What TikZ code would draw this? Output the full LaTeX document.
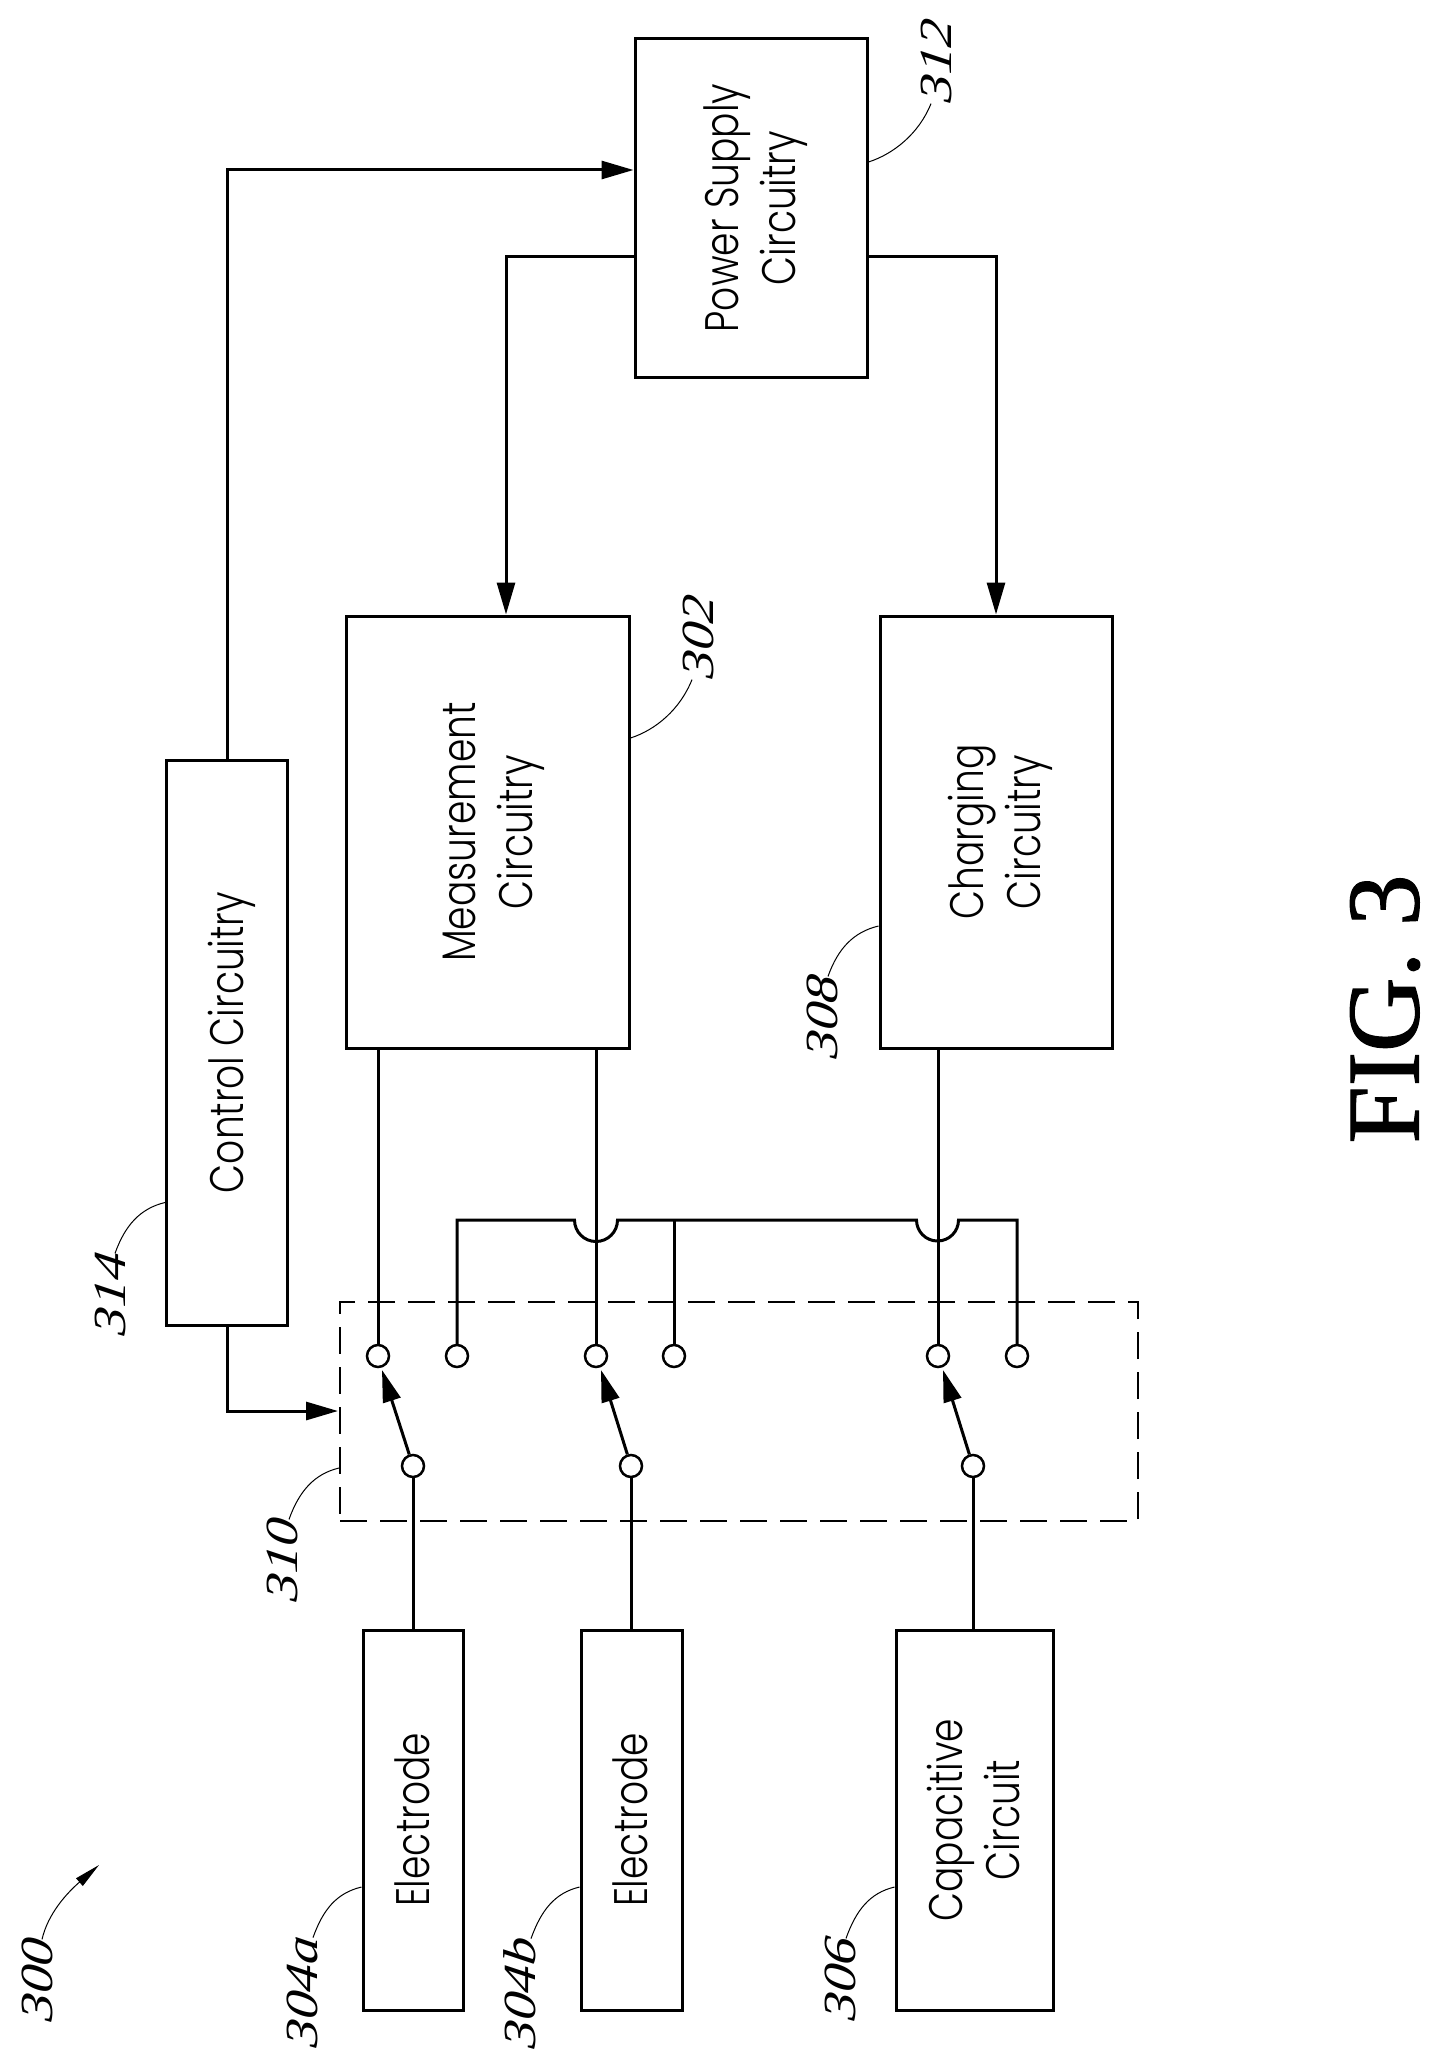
\documentclass[tikz,border=0pt]{standalone}
\usepackage{fontspec}
\setmainfont{Poppins Light}[FakeStretch=0.8]
\newfontfamily\reffont{Liberation Serif}[FakeStretch=1.2,ItalicFeatures={FakeSlant=0.12}]
\newfontfamily\figfont{Liberation Serif}[FakeBold=1.2]
\usetikzlibrary{arrows.meta}
\newcommand{\vtext}[1]{\hspace*{10pt}\rotatebox{90}{\begin{tabular}{@{}c@{}}#1\end{tabular}}}
\tikzset{
  blk/.style={draw,line width=3pt,inner sep=0pt,font=\fontsize{47}{57}\selectfont},
  wire/.style={line width=3pt},
  arr/.style={wire,-{Triangle[length=32pt,width=18pt]}},
  contact/.style={circle,draw,line width=2.5pt,fill=white,minimum size=22pt,inner sep=0pt},
  swbox/.style={draw,line width=2pt,dash pattern=on 27pt off 13pt,inner sep=0pt},
  lead/.style={line width=1pt},
  reflabel/.style={rotate=90,inner sep=0pt,font=\reffont\itshape\fontsize{46}{46}\selectfont},
}

\begin{document}
\begin{tikzpicture}[x=1pt,y=1pt]
    \useasboundingbox (0,0) rectangle (1442,-2068);

    \node[swbox,minimum width=798pt,minimum height=219pt] (sw) at (739,-1411.5) {};

    \node[blk,minimum width=232pt,minimum height=338pt] (pwr)  at (751,-208)     {\vtext{Power Supply\\Circuitry}};
    \node[blk,minimum width=121pt,minimum height=565pt] (ctrl) at (227,-1042.5)  {\vtext{Control Circuitry}};
    \node[blk,minimum width=283pt,minimum height=432pt] (meas) at (487.5,-832)   {\vtext{Measurement\\Circuitry}};
    \node[blk,minimum width=232pt,minimum height=432pt] (chg)  at (996,-832)     {\vtext{Charging\\Circuitry}};
    \node[blk,minimum width=100pt,minimum height=380pt] (ela)  at (413,-1820)    {\vtext{Electrode}};
    \node[blk,minimum width=101pt,minimum height=380pt] (elb)  at (631.5,-1820)  {\vtext{Electrode}};
    \node[blk,minimum width=157pt,minimum height=380pt] (cap)  at (974.5,-1820)  {\vtext{Capacitive\\Circuit}};

    \foreach \n/\x in {c1/378,c2/457,c3/596,c4/674,c5/938,c6/1017}
      \node[contact] (\n) at (\x,-1356) {};
    \foreach \n/\x in {s1/413,s2/631,s3/973}
      \node[contact] (\n) at (\x,-1466) {};

    \coordinate (swin) at (338,-1411);
    \coordinate (t1) at (382,-1370);
    \coordinate (t2) at (601,-1370);
    \coordinate (t3) at (943,-1370);
    \coordinate (j1) at (574.5,-1220);
    \coordinate (j2) at (916.5,-1220);

    \draw[arr] (ctrl.north) |- ([yshift=38pt]pwr.west);
    \draw[arr] (ctrl.south) |- (swin);
    \draw[arr] ([yshift=-49pt]pwr.west) -| ([xshift=18.5pt]meas.north);
    \draw[arr] ([yshift=-49pt]pwr.east) -| (chg.north);

    \draw[wire] (c1) -- (c1 |- meas.south);
    \draw[wire] (c3) -- (c3 |- meas.south);
    \draw[wire] (c5) -- (c5 |- chg.south);
    \draw[wire] (c2) |- (j1) arc (180:360:21.5pt) -- (j2) arc (180:360:21pt) -| (c6);
    \draw[wire] (c4) -- (c4 |- j1);

    \draw[wire] (s1) -- (s1 |- ela.north);
    \draw[wire] (s2) -- (s2 |- elb.north);
    \draw[wire] (s3) -- (s3 |- cap.north);
    \draw[arr] (s1) -- (t1);
    \draw[arr] (s2) -- (t2);
    \draw[arr] (s3) -- (t3);

    \node[reflabel] (l300)  at (37,-1981)  {300};
    \node[reflabel] (l302)  at (698,-638)  {302};
    \node[reflabel] (l304a) at (302,-1993) {304a};
    \node[reflabel] (l304b) at (520,-1994) {304b};
    \node[reflabel] (l306)  at (840,-1980) {306};
    \node[reflabel] (l308)  at (822,-1018) {308};
    \node[reflabel] (l310)  at (282,-1561) {310};
    \node[reflabel] (l312)  at (936,-62)   {312};
    \node[reflabel] (l314)  at (110,-1295) {314};

    \coordinate (a300) at (99,-1865);
    \draw[lead,-{Triangle[length=26pt,width=10pt]}] ([xshift=5pt]l300.east) .. controls +(6,26) and +(-32,-28) .. (a300);
    \draw[lead] ([yshift=-67pt]ela.west)  .. controls +(-25,-6) and +(10,28)   .. ([xshift=11pt]l304a.east);
    \draw[lead] ([yshift=-67pt]elb.west)  .. controls +(-25,-6) and +(10,28)   .. ([xshift=11pt]l304b.east);
    \draw[lead] ([yshift=-67pt]cap.west)  .. controls +(-25,-6) and +(10,28)   .. ([xshift=6pt]l306.east);
    \draw[lead] ([yshift=-94pt]chg.west)  .. controls +(-25,-6) and +(10,28)   .. ([xshift=6pt]l308.east);
    \draw[lead] ([yshift=-56.5pt]sw.west) .. controls +(-25,-6) and +(10,28)   .. ([xshift=7pt]l310.east);
    \draw[lead] ([yshift=-160pt]ctrl.west) .. controls +(-25,-6) and +(10,28)  .. ([xshift=5pt]l314.east);
    \draw[lead] ([yshift=46pt]pwr.east)   .. controls +(25,8) and +(-12,-30)   .. ([xshift=-5pt]l312.west);
    \draw[lead] ([yshift=94pt]meas.east)  .. controls +(25,8) and +(-12,-30)   .. ([xshift=-6pt]l302.west);

    \node[rotate=90,inner sep=0pt,font=\figfont\fontsize{103}{103}\selectfont] (fig) at (1385,-1009) {FIG. 3};
  \end{tikzpicture}
\end{document}
